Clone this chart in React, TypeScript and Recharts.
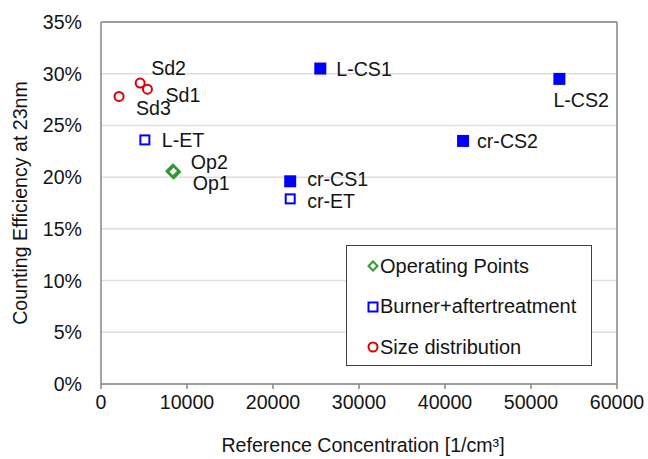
import { CartesianGrid, Legend, ReferenceLine, Scatter, ScatterChart, XAxis, YAxis } from "recharts";

const FONT = "'Liberation Sans', Arial, sans-serif";
const TEXT = "#141414";
const AXIS = "#868686";
const FS = 19.6;

// Operating points (green diamonds)
const opLabels = ["Op1", "Op2"];
const opConc = [8450, 8350];
const opEff = [20.5, 20.6];

// Burner + aftertreatment (blue squares, filled or hollow)
const burnerLabels = ["L-ET", "cr-ET", "L-CS1", "cr-CS1", "L-CS2", "cr-CS2"];
const burnerConc = [5100, 22000, 25500, 22000, 53300, 42100];
const burnerEff = [23.6, 17.9, 30.5, 19.6, 29.5, 23.5];
const burnerFilled = [false, false, true, true, true, true];

// Size distribution (red circles)
const sizeLabels = ["Sd1", "Sd2", "Sd3"];
const sizeConc = [5400, 4550, 2100];
const sizeEff = [28.5, 29.1, 27.8];

const xTicks = [0, 10000, 20000, 30000, 40000, 50000, 60000];
const yTicks = [0, 5, 10, 15, 20, 25, 30, 35];

const opData = opLabels.map((name, i) => ({ name, x: opConc[i], y: opEff[i] }));
const burnerData = burnerLabels.map((name, i) => ({
  name,
  x: burnerConc[i],
  y: burnerEff[i],
  filled: burnerFilled[i],
}));
const sizeData = sizeLabels.map((name, i) => ({ name, x: sizeConc[i], y: sizeEff[i] }));

// where each point label sits relative to its marker
const labelOffset: Record<string, [number, number]> = {
  Op1: [19, 11],
  Op2: [18, -9],
  "L-ET": [17, 0],
  "cr-ET": [17, 2],
  "L-CS1": [16, 0],
  "cr-CS1": [17, -2],
  "L-CS2": [-6, 21],
  "cr-CS2": [14, 0],
  Sd1: [18, 6],
  Sd2: [11, -15],
  Sd3: [17, 12],
};

function PointLabel({ cx, cy, name }: { cx: number; cy: number; name: string }) {
  const [dx, dy] = labelOffset[name] ?? [12, 0];
  return (
    <text
      x={cx + dx}
      y={cy + dy}
      dominantBaseline="central"
      fontFamily={FONT}
      fontSize={FS}
      fill={TEXT}
    >
      {name}
    </text>
  );
}

const diamondShape = (props: any) => {
  const { cx, cy, payload } = props;
  const r = 6;
  return (
    <g>
      <path
        d={`M${cx},${cy - r}L${cx + r},${cy}L${cx},${cy + r}L${cx - r},${cy}Z`}
        fill="none"
        stroke="#339933"
        strokeWidth={2.5}
      />
      <PointLabel cx={cx} cy={cy} name={payload.name} />
    </g>
  );
};

const squareShape = (props: any) => {
  const { cx, cy, payload } = props;
  return (
    <g>
      {payload.filled ? (
        <rect x={cx - 6} y={cy - 6} width={12} height={12} fill="#0000ff" />
      ) : (
        <rect x={cx - 4.5} y={cy - 4.5} width={9} height={9} fill="none" stroke="#0000ff" strokeWidth={2} />
      )}
      <PointLabel cx={cx} cy={cy} name={payload.name} />
    </g>
  );
};

const circleShape = (props: any) => {
  const { cx, cy, payload } = props;
  return (
    <g>
      <circle cx={cx} cy={cy} r={4.5} fill="none" stroke="#dd0000" strokeWidth={2} />
      <PointLabel cx={cx} cy={cy} name={payload.name} />
    </g>
  );
};

const legendItems = [
  { label: "Operating Points", icon: "diamond" },
  { label: "Burner+aftertreatment", icon: "square" },
  { label: "Size distribution", icon: "circle" },
];

function LegendIcon({ kind }: { kind: string }) {
  return (
    <svg width={12} height={12} style={{ marginRight: 1, flexShrink: 0 }}>
      {kind === "diamond" && <path d="M6,1.5L10.5,6L6,10.5L1.5,6Z" fill="none" stroke="#339933" strokeWidth={2} />}
      {kind === "square" && <rect x={1.5} y={1.5} width={9} height={9} fill="none" stroke="#0000ff" strokeWidth={2} />}
      {kind === "circle" && <circle cx={6} cy={6} r={4.5} fill="none" stroke="#dd0000" strokeWidth={2} />}
    </svg>
  );
}

function LegendBox() {
  return (
    <div
      style={{
        boxSizing: "border-box",
        width: 246,
        height: 121,
        border: "1px solid #404040",
        background: "#fff",
        padding: "0 0 0 20px",
        fontFamily: FONT,
        fontSize: 20,
        color: TEXT,
      }}
    >
      {legendItems.map((item) => (
        <div key={item.label} style={{ display: "flex", alignItems: "center", height: 40.5 }}>
          <LegendIcon kind={item.icon} />
          <span>{item.label}</span>
        </div>
      ))}
    </div>
  );
}

function YTitle(props: any) {
  const { viewBox } = props;
  const cy = viewBox.y + viewBox.height / 2;
  return (
    <text
      x={20}
      y={cy}
      transform={`rotate(-90 20 ${cy})`}
      textAnchor="middle"
      dominantBaseline="central"
      fontFamily={FONT}
      fontSize={FS}
      fill={TEXT}
    >
      Counting Efficiency at 23nm
    </text>
  );
}

function XTitle(props: any) {
  const { viewBox } = props;
  const cx = viewBox.x + viewBox.width / 2 + 4;
  return (
    <text x={cx} y={445} textAnchor="middle" dominantBaseline="central" fontFamily={FONT} fontSize={FS} fill={TEXT}>
      Reference Concentration [1/cm³]
    </text>
  );
}

export default function App() {
  const tickStyle = { fill: TEXT, fontSize: FS, fontFamily: FONT };
  return (
    <div style={{ position: "absolute", left: 0, top: 0, background: "#fff" }}>
      <ScatterChart width={648} height={459} margin={{ top: 22, right: 31, bottom: 0, left: 0 }}>
        <CartesianGrid vertical={false} stroke="#dedede" strokeWidth={1.5} />
        <XAxis
          type="number"
          dataKey="x"
          domain={[0, 60000]}
          ticks={xTicks}
          interval={0}
          height={75}
          tick={tickStyle}
          tickMargin={6}
          tickSize={5}
          stroke={AXIS}
          strokeWidth={1.5}
          label={<XTitle />}
        />
        <YAxis
          type="number"
          dataKey="y"
          domain={[0, 35]}
          ticks={yTicks}
          interval={0}
          width={101}
          tick={tickStyle}
          tickFormatter={(v: number) => `${v}%`}
          tickSize={0}
          tickMargin={19}
          stroke={AXIS}
          strokeWidth={1.5}
          label={<YTitle />}
        />
        <ReferenceLine y={35} stroke={AXIS} strokeWidth={1.5} />
        <ReferenceLine x={60000} stroke={AXIS} strokeWidth={1.5} />
        <Scatter name="Operating Points" data={opData} shape={diamondShape} isAnimationActive={false} />
        <Scatter name="Burner+aftertreatment" data={burnerData} shape={squareShape} isAnimationActive={false} />
        <Scatter name="Size distribution" data={sizeData} shape={circleShape} isAnimationActive={false} />
        <Legend
          layout="horizontal"
          verticalAlign="middle"
          align="center"
          content={() => <LegendBox />}
          wrapperStyle={{ position: "absolute", left: 346, top: 245, width: 246, height: 121 }}
        />
      </ScatterChart>
    </div>
  );
}
